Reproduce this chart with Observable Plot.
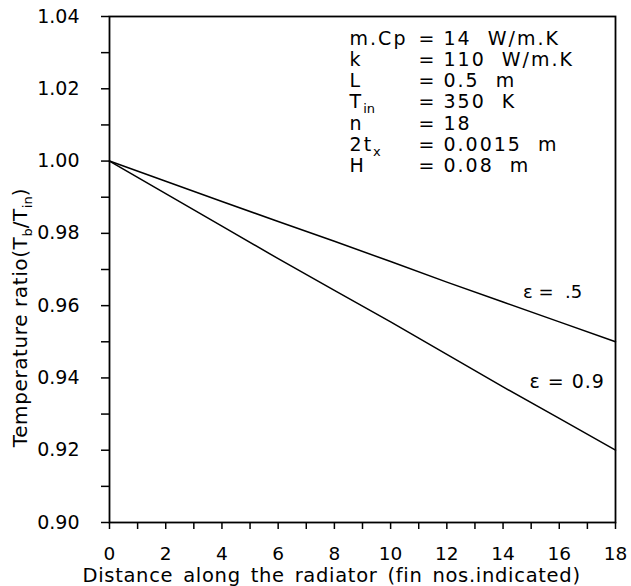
<!DOCTYPE html>
<html>
<head>
<meta charset="utf-8">
<script src="https://cdn.jsdelivr.net/npm/d3@7"></script>
<script src="https://cdn.jsdelivr.net/npm/@observablehq/plot@0.6"></script>
<style>
  html, body { margin: 0; padding: 0; background: #fff; }
  svg text { white-space: pre; }
</style>
</head>
<body>
<div id="chart"></div>
<script>
// ---- data ----
const fins = [0, 2, 4, 6, 8, 10, 12, 14, 16, 18];
const ratioEps05 = [1.000, 0.9944, 0.9888, 0.9833, 0.9778, 0.9722, 0.9665, 0.9610, 0.9555, 0.9500];
const ratioEps09 = [1.000, 0.9910, 0.9820, 0.9730, 0.9642, 0.9555, 0.9465, 0.9375, 0.9288, 0.9200];
const seriesLabels = ["ε =  .5", "ε = 0.9"];

const xTicks = [0,1,2,3,4,5,6,7,8,9,10,11,12,13,14,15,16,17,18];
const xTickLabels = [0, 2, 4, 6, 8, 10, 12, 14, 16, 18];
const yTicks = [0.90,0.91,0.92,0.93,0.94,0.95,0.96,0.97,0.98,0.99,1.00,1.01,1.02,1.03,1.04];
const yTickLabels = [0.90, 0.92, 0.94, 0.96, 0.98, 1.00, 1.02, 1.04];

const paramNames = ["m.Cp", "k", "L", "T_in", "n", "2t_x", "H"];
const paramValues = ["14  W/m.K", "110  W/m.K", "0.5  m", "350  K", "18", "0.0015  m", "0.08  m"];

const xTitle = "Distance along the radiator (fin nos.indicated)";
const yTitle = "Temperature ratio(T_b/T_in)";

// ---- tables built from the arrays ----
const lineData = [
  ...fins.map((f, i) => ({fin: f, ratio: ratioEps05[i], eps: "0.5"})),
  ...fins.map((f, i) => ({fin: f, ratio: ratioEps09[i], eps: "0.9"}))
];
const params = paramNames.map((n, i) => ({name: n, value: paramValues[i], row: i}));
const rowY = (i) => 1.03393 - i * 0.005882;

const font = "DejaVu Sans";

const chart = Plot.plot({
  width: 631,
  height: 586,
  marginLeft: 109,
  marginRight: 16,
  marginTop: 16,
  marginBottom: 64,
  style: {fontFamily: font, fontSize: "19px", color: "#000", background: "#fff", overflow: "visible"},
  x: {domain: [0, 18]},
  y: {domain: [0.90, 1.04]},
  marks: [
    Plot.axisX({
      ticks: xTicks, tickSize: 7, tickPadding: 17, strokeWidth: 1.5,
      tickFormat: d => xTickLabels.includes(d) ? String(d) : "",
      label: null, fontSize: 18.5
    }),
    Plot.axisY({
      ticks: yTicks, tickSize: 8, tickPadding: 22, strokeWidth: 1.5,
      tickFormat: d => yTickLabels.some(v => Math.abs(v - d) < 1e-9) ? d.toFixed(2) : "",
      label: null, fontSize: 19
    }),
    Plot.frame({stroke: "#000", strokeWidth: 1.8}),
    Plot.line(lineData, {x: "fin", y: "ratio", z: "eps", stroke: "#000", strokeWidth: 1.5}),
    // series labels
    Plot.text([seriesLabels[0]], {x: 15.76, y: 0.9638, text: d => d, fontSize: 18}),
    Plot.text([seriesLabels[1]], {x: 16.28, y: 0.9388, text: d => d, fontSize: 19, className: "eps9"}),
    // parameter block
    Plot.text(params, {x: 8.54, y: d => rowY(d.row), text: "name", textAnchor: "start", fontSize: 19, className: "pname"}),
    Plot.text(params, {x: 10.99, y: d => rowY(d.row), text: () => "=", textAnchor: "start", fontSize: 19}),
    Plot.text(params, {x: 11.88, y: d => rowY(d.row), text: "value", textAnchor: "start", fontSize: 19, className: "pval"}),
    // axis titles
    Plot.text([xTitle], {x: 7.9, y: 0.8852, text: d => d, fontSize: 19.5, className: "xtitle", clip: false}),
    Plot.text([yTitle], {x: -3.17, y: 0.9567, text: d => d, rotate: -90, fontSize: 20, className: "ytitle", clip: false})
  ]
});

// letter spacing tweaks to mimic the wide plotter font
d3.select(chart).selectAll(".xtitle text").attr("letter-spacing", "0.7").attr("word-spacing", "3");
d3.select(chart).selectAll(".ytitle text").attr("letter-spacing", "0.6");
d3.select(chart).selectAll(".pval text").attr("letter-spacing", "2");
d3.select(chart).selectAll(".pname text").attr("letter-spacing", "2");
d3.select(chart).selectAll(".eps9 text").attr("letter-spacing", "1");

// turn "X_sub" into real subscripts
d3.select(chart).selectAll("text").each(function () {
  const el = d3.select(this);
  if (el.selectAll("tspan").size() > 0) return;
  const s = this.textContent;
  if (!s.includes("_")) return;
  el.text(null);
  const re = /_([a-z]+)/g;
  let last = 0, m, shifted = false;
  while ((m = re.exec(s)) !== null) {
    const before = s.slice(last, m.index);
    if (before) {
      const t = el.append("tspan").text(before);
      if (shifted) { t.attr("dy", "-5"); shifted = false; }
    }
    el.append("tspan").text(m[1]).attr("font-size", "13").attr("letter-spacing", "0").attr("dy", "5");
    shifted = true;
    last = re.lastIndex;
  }
  const rest = s.slice(last);
  if (rest) {
    const t = el.append("tspan").text(rest);
    if (shifted) t.attr("dy", "-5");
  }
});

document.getElementById("chart").appendChild(chart);
</script>
</body>
</html>
